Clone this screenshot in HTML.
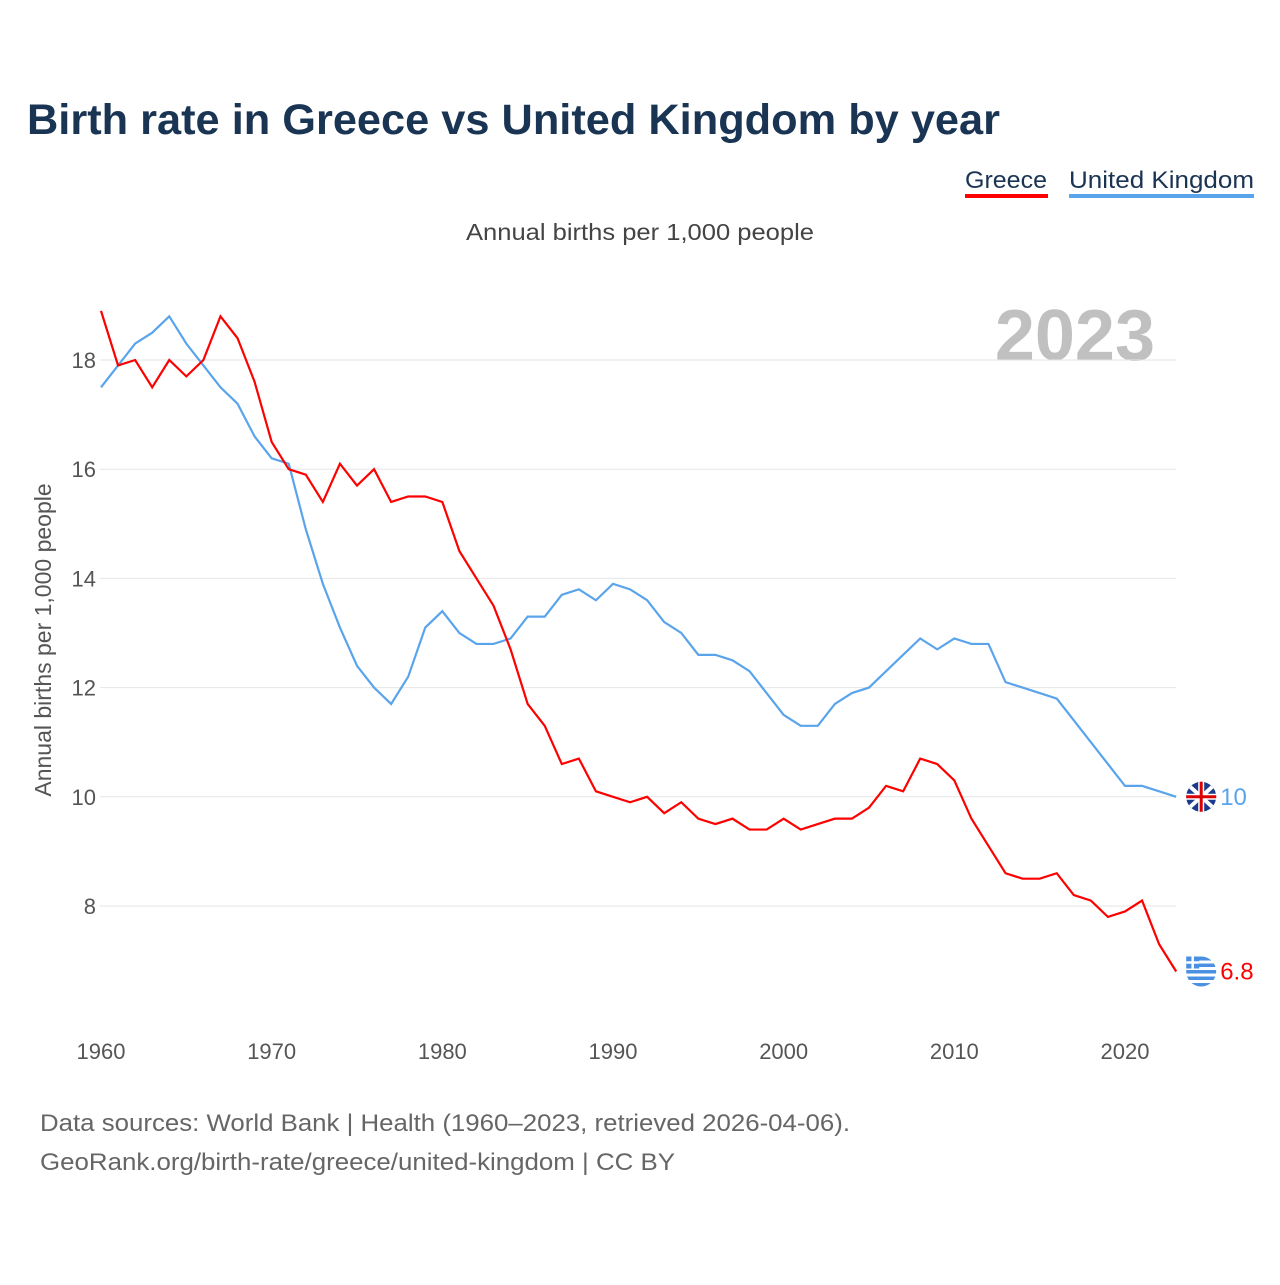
<!DOCTYPE html>
<html><head><meta charset="utf-8"><style>
body{margin:0;background:#fff;font-family:"Liberation Sans",sans-serif;}
svg text{font-family:"Liberation Sans",sans-serif;}
</style></head><body>
<svg width="1280" height="1280" viewBox="0 0 1280 1280">
<text x="27" y="134" font-size="43" font-weight="bold" fill="#1a3453" textLength="973" lengthAdjust="spacingAndGlyphs">Birth rate in Greece vs United Kingdom by year</text>
<g><text x="965" y="188" font-size="24" fill="#1a3453" textLength="82" lengthAdjust="spacingAndGlyphs">Greece</text><rect x="965" y="194" width="83" height="4" fill="#ff0000"/></g>
<g><text x="1069" y="188" font-size="24" fill="#1a3453" textLength="185" lengthAdjust="spacingAndGlyphs">United Kingdom</text><rect x="1069" y="194" width="185" height="4" fill="#5aa4ec"/></g>
<text x="466" y="240" font-size="23" fill="#444" textLength="348" lengthAdjust="spacingAndGlyphs">Annual births per 1,000 people</text>
<text x="1155" y="360" font-size="72" font-weight="bold" fill="#c0c0c0" text-anchor="end">2023</text>
<text transform="translate(51,640) rotate(-90)" font-size="23" fill="#555" text-anchor="middle">Annual births per 1,000 people</text>
<g id="grid"></g><g id="xt"></g><g id="lines"></g><g id="ends"></g>
<text x="40" y="1131" font-size="24" fill="#666" textLength="810" lengthAdjust="spacingAndGlyphs">Data sources: World Bank | Health (1960–2023, retrieved 2026-04-06).</text>
<text x="40" y="1170" font-size="24" fill="#666" textLength="635" lengthAdjust="spacingAndGlyphs">GeoRank.org/birth-rate/greece/united-kingdom | CC BY</text>
</svg>
<script>
const years=[];for(let y=1960;y<=2023;y++)years.push(y);
const greece=[18.9,17.9,18.0,17.5,18.0,17.7,18.0,18.8,18.4,17.6,16.5,16.0,15.9,15.4,16.1,15.7,16.0,15.4,15.5,15.5,15.4,14.5,14.0,13.5,12.7,11.7,11.3,10.6,10.7,10.1,10.0,9.9,10.0,9.7,9.9,9.6,9.5,9.6,9.4,9.4,9.6,9.4,9.5,9.6,9.6,9.8,10.2,10.1,10.7,10.6,10.3,9.6,9.1,8.6,8.5,8.5,8.6,8.2,8.1,7.8,7.9,8.1,7.3,6.8];
const uk=[17.5,17.9,18.3,18.5,18.8,18.3,17.9,17.5,17.2,16.6,16.2,16.1,14.9,13.9,13.1,12.4,12.0,11.7,12.2,13.1,13.4,13.0,12.8,12.8,12.9,13.3,13.3,13.7,13.8,13.6,13.9,13.8,13.6,13.2,13.0,12.6,12.6,12.5,12.3,11.9,11.5,11.3,11.3,11.7,11.9,12.0,12.3,12.6,12.9,12.7,12.9,12.8,12.8,12.1,12.0,11.9,11.8,11.4,11.0,10.6,10.2,10.2,10.1,10.0];
const yTicks=[8,10,12,14,16,18];
const xTicks=[1960,1970,1980,1990,2000,2010,2020];
const NS="http://www.w3.org/2000/svg";
const X=y=>101+(y-1960)*1024/60;
const Y=v=>906-(v-8)*54.6;
function mk(t,a,p){const e=document.createElementNS(NS,t);for(const k in a)e.setAttribute(k,a[k]);p.appendChild(e);return e;}
const grid=document.getElementById('grid');
yTicks.forEach(v=>{
 const l=mk('line',{x1:100,x2:1176,y1:Y(v),y2:Y(v),stroke:'#e6e6e6','stroke-width':1},grid);
 
 
 const t=mk('text',{x:96,y:Y(v)+8,'font-size':22,fill:'#555','text-anchor':'end'},grid);t.textContent=v;
 
 
});
const xt=document.getElementById('xt');
xTicks.forEach(v=>{
 const t=mk('text',{x:X(v),y:1059,'font-size':22,fill:'#555','text-anchor':'middle'},xt);t.textContent=v;
 
 
});
const lines=document.getElementById('lines');
function line(d,c,n){
 const p=mk('polyline',{points:d.map((v,i)=>X(years[i])+','+Y(v)).join(' '),fill:'none',stroke:c,'stroke-width':2.2},lines);
 
 
}
line(uk,'#5aa4ec','uk-line');line(greece,'#ff0000','greece-line');
const ends=document.getElementById('ends');
function end(d,c,n,flag){
 const v=d[d.length-1],x=X(years[years.length-1]),y=Y(v);
 const g=mk('g',{},ends);
 
 
 if(flag==='uk'){
  mk('circle',{cx:x+25,cy:y,r:15,fill:'#1a3a8c'},g);
  mk('path',{d:`M${x+14} ${y-10}L${x+36} ${y+10}M${x+36} ${y-10}L${x+14} ${y+10}`,stroke:'#fff','stroke-width':4},g);
  mk('path',{d:`M${x+10} ${y}H${x+40}M${x+25} ${y-15}V${y+15}`,stroke:'#fff','stroke-width':6},g);
  mk('path',{d:`M${x+10} ${y}H${x+40}M${x+25} ${y-15}V${y+15}`,stroke:'#d00','stroke-width':3},g);
 }else{
  mk('circle',{cx:x+25,cy:y,r:15,fill:'#4a90e2'},g);
  for(let i=0;i<4;i++)mk('rect',{x:x+10,y:y-11+i*6.5,width:30,height:3,fill:'#fff'},g);
  mk('rect',{x:x+10,y:y-15,width:13,height:12,fill:'#4a90e2'},g);
  mk('path',{d:`M${x+10} ${y-9}H${x+23}M${x+16.5} ${y-15}V${y-3}`,stroke:'#fff','stroke-width':2.5},g);
 }
 const t=mk('text',{x:x+44,y:y+8,'font-size':24,fill:c},g);t.textContent=v;
}
end(uk,'#5aa4ec','uk','uk');end(greece,'#ff0000','greece','gr');
</script>
</body></html>
